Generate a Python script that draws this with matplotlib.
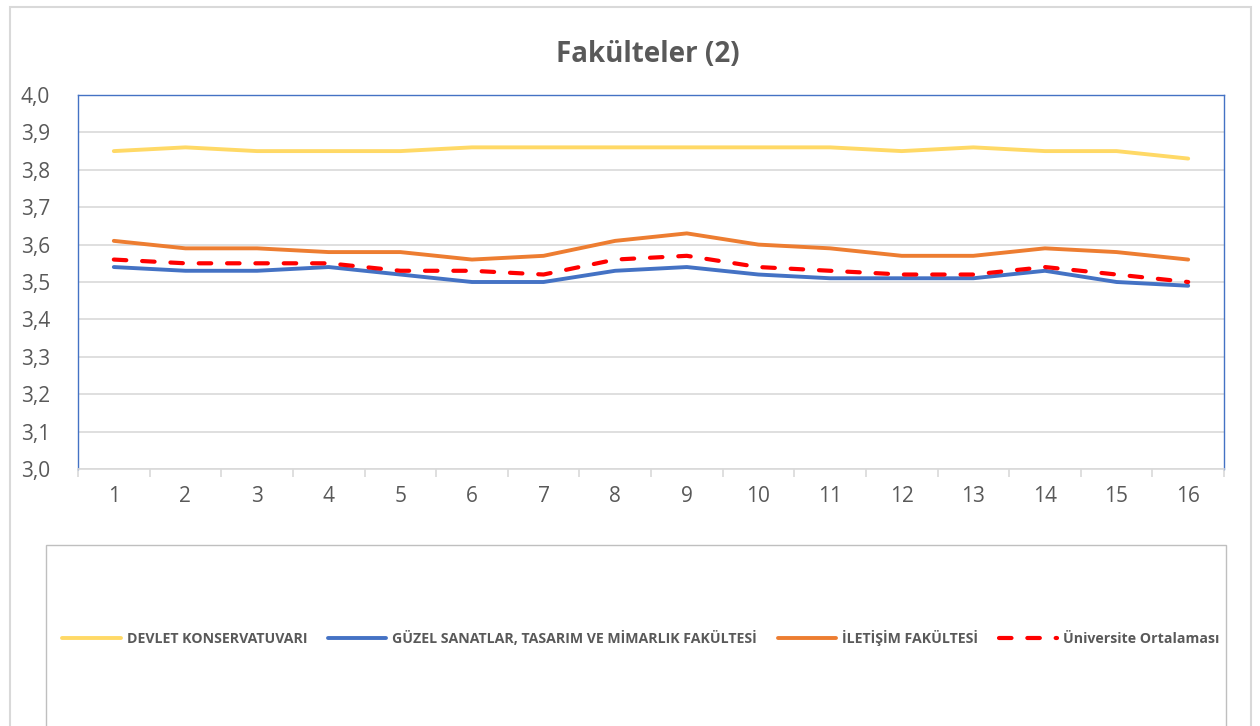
import matplotlib
matplotlib.use("Agg")
import matplotlib.pyplot as plt
from matplotlib.patches import Rectangle
from matplotlib.ticker import FixedLocator, FuncFormatter

plt.rcParams['font.family'] = ['Open Sans', 'DejaVu Sans']

categories = [str(i) for i in range(1, 17)]
series_names = ["DEVLET KONSERVATUVARI",
                "GÜZEL SANATLAR, TASARIM VE MİMARLIK FAKÜLTESİ",
                "İLETİŞİM FAKÜLTESİ",
                "Üniversite Ortalaması"]
devlet = [3.85, 3.86, 3.85, 3.85, 3.85, 3.86, 3.86, 3.86, 3.86, 3.86, 3.86, 3.85, 3.86, 3.85, 3.85, 3.83]
guzel = [3.54, 3.53, 3.53, 3.54, 3.52, 3.50, 3.50, 3.53, 3.54, 3.52, 3.51, 3.51, 3.51, 3.53, 3.50, 3.49]
iletisim = [3.61, 3.59, 3.59, 3.58, 3.58, 3.56, 3.57, 3.61, 3.63, 3.60, 3.59, 3.57, 3.57, 3.59, 3.58, 3.56]
universite = [3.56, 3.55, 3.55, 3.55, 3.53, 3.53, 3.52, 3.56, 3.57, 3.54, 3.53, 3.52, 3.52, 3.54, 3.52, 3.50]
y_ticks = [3.0, 3.1, 3.2, 3.3, 3.4, 3.5, 3.6, 3.7, 3.8, 3.9, 4.0]

W, H = 1260, 726
fig = plt.figure(figsize=(W / 100, H / 100), dpi=100)
fig.patch.set_facecolor("white")

# outer chart frame
fig.patches.append(Rectangle((10 / W, -0.01), (1251 - 10) / W, (H - 7) / H + 0.01,
                             transform=fig.transFigure, fill=False,
                             edgecolor="#D9D9D9", linewidth=1.5))
# legend box
fig.patches.append(Rectangle((46 / W, -0.01), (1226 - 46) / W, (H - 545) / H + 0.01,
                             transform=fig.transFigure, fill=False,
                             edgecolor="#BFBFBF", linewidth=1.0))

ax = fig.add_axes([78 / W, (H - 469) / H, (1224 - 78) / W, (469 - 95) / H])
x = list(range(len(categories)))

l1, = ax.plot(x, devlet, color="#FFD966", lw=2.8, solid_capstyle="round", label=series_names[0], zorder=3)
l2, = ax.plot(x, guzel, color="#4472C4", lw=2.8, solid_capstyle="round", label=series_names[1], zorder=3)
l3, = ax.plot(x, iletisim, color="#ED7D31", lw=2.8, solid_capstyle="round", label=series_names[2], zorder=3)
l4, = ax.plot(x, universite, color="#FF0000", lw=3.0, linestyle=(0, (3, 3.8)),
              dash_capstyle="round", label=series_names[3], zorder=4)

ax.set_xlim(-0.5, len(categories) - 0.5)
ax.set_ylim(3.0, 4.0)
ax.set_yticks(y_ticks)
ax.yaxis.set_major_formatter(FuncFormatter(lambda v, p: f"{v:.1f}".replace(".", ",")))
ax.set_xticks(x)
ax.set_xticklabels(categories)
ax.xaxis.set_minor_locator(FixedLocator([i - 0.5 for i in range(len(categories) + 1)]))
ax.tick_params(axis="x", which="major", length=0, pad=12, labelsize=15, labelcolor="#595959")
ax.tick_params(axis="x", which="minor", length=6, color="#D9D9D9", width=1.2)
ax.tick_params(axis="y", length=0, pad=20, labelsize=15, labelcolor="#595959")

ax.grid(axis="y", color="#D9D9D9", linewidth=1.2, zorder=0)
ax.set_axisbelow(True)
for s in ["left", "top", "right"]:
    ax.spines[s].set_color("#4472C4")
    ax.spines[s].set_linewidth(1.0)
ax.spines["bottom"].set_color("#D9D9D9")
ax.spines["bottom"].set_linewidth(1.2)

fig.text(648 / W, 1 - 54 / H, "Fakülteler (2)", ha="center", va="center",
         fontsize=20, fontweight="bold", color="#595959")

leg = fig.legend(handles=[l1, l2, l3, l4], loc="center", bbox_to_anchor=(641 / W, 1 - 638 / H),
                 ncol=4, frameon=False, handlelength=4.1, handletextpad=0.45, columnspacing=1.45,
                 prop={"size": 10.2, "weight": "bold"})
for t in leg.get_texts():
    t.set_color("#595959")

fig.savefig("out.png", dpi=100, facecolor="white")
